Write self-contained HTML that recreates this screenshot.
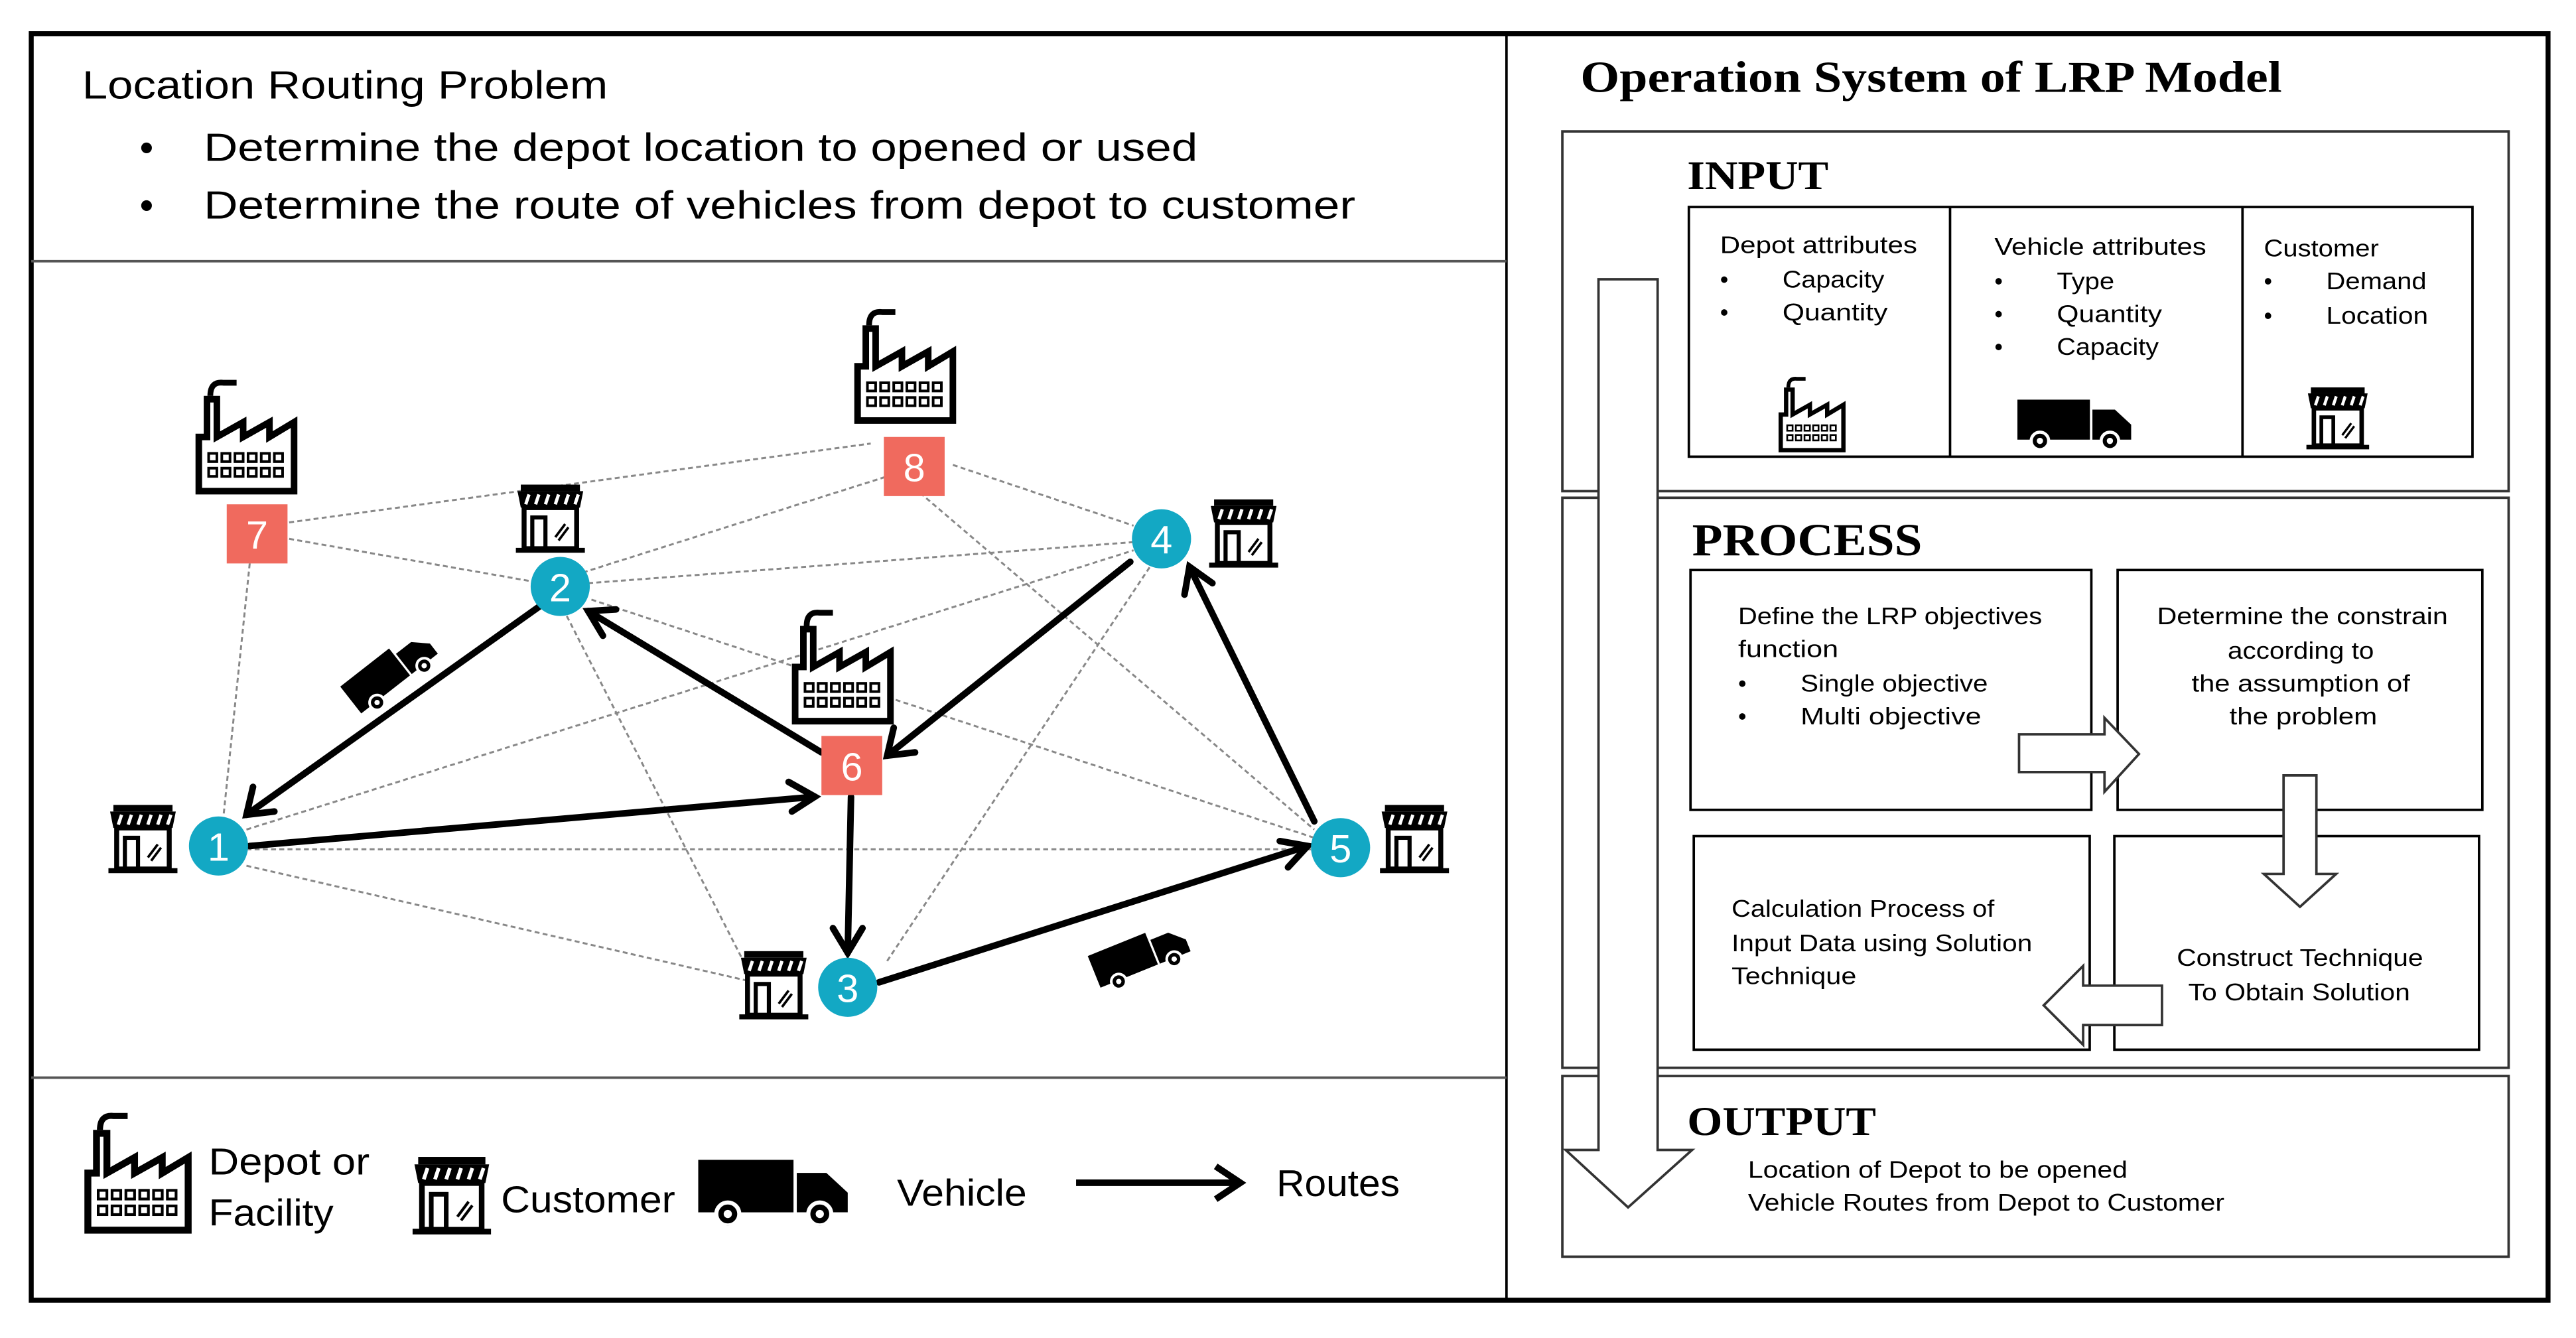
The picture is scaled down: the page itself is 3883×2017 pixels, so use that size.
<!DOCTYPE html>
<html><head><meta charset="utf-8"><style>
html,body{margin:0;padding:0;background:#fff}
svg{display:block}
.s{font-family:"Liberation Sans",sans-serif}
.r{font-family:"Liberation Serif",serif;font-weight:bold}
</style></head><body>
<svg width="3883" height="2017" viewBox="0 0 1568 814.5" xmlns="http://www.w3.org/2000/svg">
<defs>
<symbol id="fac" viewBox="0 0 64 76">
<path d="M10 15 Q10 6 18 7 H26" fill="none" stroke="#000" stroke-width="3.5"/>
<path d="M3 73 V40 H8 V17 H14 V40 L30 31 V40 L46 31 V40 L61 31 V73 Z" fill="#fff" stroke="#000" stroke-width="4" stroke-linejoin="miter"/>
<g fill="none" stroke="#000" stroke-width="1.6">
<rect x="9" y="50" width="5" height="5"/><rect x="17" y="50" width="5" height="5"/><rect x="25" y="50" width="5" height="5"/><rect x="33" y="50" width="5" height="5"/><rect x="41" y="50" width="5" height="5"/><rect x="49" y="50" width="5" height="5"/>
<rect x="9" y="59" width="5" height="5"/><rect x="17" y="59" width="5" height="5"/><rect x="25" y="59" width="5" height="5"/><rect x="33" y="59" width="5" height="5"/><rect x="41" y="59" width="5" height="5"/><rect x="49" y="59" width="5" height="5"/>
</g>
</symbol>
<symbol id="shop" viewBox="0 0 44 44">
<rect x="4" y="2" width="36" height="4" fill="#000"/>
<path d="M2 6 H42 L40 16 H4 Z" fill="#000"/>
<g stroke="#fff" stroke-width="2"><path d="M9 8 L7 14 M15 8 L13 14 M21 8 L19 14 M27 8 L25 14 M33 8 L31 14 M39 8 L37 14"/></g>
<rect x="6" y="16" width="32" height="25" fill="#fff" stroke="#000" stroke-width="3"/>
<rect x="11" y="22" width="8" height="19" fill="none" stroke="#000" stroke-width="2.5"/>
<path d="M25 34 L31 26 M27 36 L33 28" stroke="#000" stroke-width="1.5"/>
<path d="M1 42 H43" stroke="#000" stroke-width="3"/>
</symbol>
<symbol id="truck" viewBox="0 0 92 40">
<rect x="0" y="0" width="58" height="32" fill="#000"/>
<path d="M60 8 H78 L91 20 V32 H60 Z" fill="#000"/>
<circle cx="18" cy="33" r="7" fill="#000" stroke="#fff" stroke-width="2.5"/>
<circle cx="18" cy="33" r="2.5" fill="#fff"/>
<circle cx="74" cy="33" r="7" fill="#000" stroke="#fff" stroke-width="2.5"/>
<circle cx="74" cy="33" r="2.5" fill="#fff"/>
</symbol>
</defs>

<rect x="19" y="20.5" width="1532" height="771" fill="#fff" stroke="#000" stroke-width="3"/>
<line x1="917" y1="20" x2="917" y2="792" stroke="#000" stroke-width="1.5"/>
<line x1="19" y1="159" x2="917" y2="159" stroke="#555" stroke-width="1.5"/>
<line x1="19" y1="656" x2="917" y2="656" stroke="#555" stroke-width="1.5"/>

<g class="s" font-size="24" fill="#000" lengthAdjust="spacingAndGlyphs">
<text x="50" y="60" textLength="320" lengthAdjust="spacingAndGlyphs">Location Routing Problem</text>
<text x="85" y="98">•</text><text x="124" y="98" textLength="605" lengthAdjust="spacingAndGlyphs">Determine the depot location to opened or used</text>
<text x="85" y="133">•</text><text x="124" y="133" textLength="701" lengthAdjust="spacingAndGlyphs">Determine the route of vehicles from depot to customer</text>
</g>

<g stroke="#888" stroke-width="1.2" stroke-dasharray="3,2" fill="none">
<line x1="176" y1="318" x2="530" y2="270"/>
<line x1="176" y1="328" x2="330" y2="355"/>
<line x1="152" y1="343" x2="136" y2="497"/>
<line x1="350" y1="350" x2="540" y2="290"/>
<line x1="580" y1="283" x2="690" y2="320"/>
<line x1="560" y1="300" x2="800" y2="505"/>
<line x1="358" y1="355" x2="690" y2="330"/>
<line x1="360" y1="365" x2="800" y2="510"/>
<line x1="345" y1="375" x2="455" y2="590"/>
<line x1="150" y1="505" x2="690" y2="335"/>
<line x1="150" y1="517" x2="798" y2="517"/>
<line x1="150" y1="527" x2="455" y2="597"/>
<line x1="540" y1="585" x2="700" y2="345"/>
</g>

<use href="#fac" x="118" y="226" width="64" height="76"/>
<use href="#fac" x="519" y="183" width="64" height="76"/>
<use href="#fac" x="481" y="366" width="64" height="76"/>
<use href="#shop" x="65" y="488" width="44" height="44"/>
<use href="#shop" x="313" y="293" width="44" height="44"/>
<use href="#shop" x="735" y="302" width="44" height="44"/>
<use href="#shop" x="839" y="488" width="44" height="44"/>
<use href="#shop" x="449" y="577" width="44" height="44"/>
<use href="#truck" x="0" y="0" width="60" height="26" transform="translate(207,418) rotate(-38)"/>
<use href="#truck" x="0" y="0" width="60" height="26" transform="translate(662,582) rotate(-22)"/>

<g stroke="#000" stroke-width="4" fill="none" stroke-linecap="round">
<line x1="330" y1="368" x2="150" y2="496"/><path d="M154 479 L150 496 L167 494"/>
<line x1="500" y1="458" x2="358" y2="372"/><path d="M375 371 L358 372 L367 387"/>
<line x1="152" y1="515" x2="496" y2="485"/><path d="M480 476 L496 485 L482 494"/>
<line x1="518" y1="485" x2="516" y2="580"/><path d="M507 565 L516 580 L525 565"/>
<line x1="688" y1="342" x2="540" y2="460"/><path d="M544 443 L540 460 L557 458"/>
<line x1="535" y1="598" x2="796" y2="515"/><path d="M779 512 L796 515 L784 528"/>
<line x1="800" y1="500" x2="724" y2="345"/><path d="M721 362 L724 345 L738 355"/>
</g>

<g class="s" font-size="24" fill="#fff" text-anchor="middle">
<rect x="138" y="307" width="37" height="36" fill="#f06a5e"/><text x="156.5" y="334">7</text>
<rect x="538" y="266" width="37" height="36" fill="#f06a5e"/><text x="556.5" y="293">8</text>
<rect x="500" y="448" width="37" height="36" fill="#f06a5e"/><text x="518.5" y="475">6</text>
</g>
<g class="s" font-size="24" fill="#fff" text-anchor="middle">
<circle cx="133" cy="515" r="18" fill="#13a8c4"/><text x="133" y="524">1</text>
<circle cx="341" cy="357" r="18" fill="#13a8c4"/><text x="341" y="366">2</text>
<circle cx="516" cy="601" r="18" fill="#13a8c4"/><text x="516" y="610">3</text>
<circle cx="707" cy="328" r="18" fill="#13a8c4"/><text x="707" y="337">4</text>
<circle cx="816" cy="516" r="18" fill="#13a8c4"/><text x="816" y="525">5</text>
</g>

<use href="#fac" x="46" y="672" width="76" height="80"/>
<use href="#shop" x="249" y="702" width="52" height="50"/>
<use href="#truck" x="425" y="706" width="92" height="40"/>
<g class="s" font-size="23" fill="#000">
<text x="127" y="715" textLength="98" lengthAdjust="spacingAndGlyphs">Depot or</text>
<text x="127" y="746" textLength="76" lengthAdjust="spacingAndGlyphs">Facility</text>
<text x="305" y="738" textLength="106" lengthAdjust="spacingAndGlyphs">Customer</text>
<text x="546" y="734" textLength="79" lengthAdjust="spacingAndGlyphs">Vehicle</text>
<text x="777" y="728" textLength="75" lengthAdjust="spacingAndGlyphs">Routes</text>
</g>
<g stroke="#000" stroke-width="4" fill="none"><line x1="655" y1="720" x2="754" y2="720"/><path d="M740 710 L755 720 L740 730"/></g>

<text class="r" x="962" y="56" font-size="27" textLength="427" lengthAdjust="spacingAndGlyphs">Operation System of LRP Model</text>
<g fill="none" stroke="#333" stroke-width="1.5">
<rect x="951" y="80" width="576" height="219"/>
<rect x="951" y="303" width="576" height="347"/>
<rect x="951" y="655" width="576" height="110"/>
<rect x="1028" y="126" width="477" height="152" stroke="#000"/>
<line x1="1187" y1="126" x2="1187" y2="278" stroke="#000"/>
<line x1="1365" y1="126" x2="1365" y2="278" stroke="#000"/>
<rect x="1029" y="347" width="244" height="146" stroke="#000"/>
<rect x="1289" y="347" width="222" height="146" stroke="#000"/>
<rect x="1031" y="509" width="241" height="130" stroke="#000"/>
<rect x="1287" y="509" width="222" height="130" stroke="#000"/>
</g>
<path d="M973 170 H1009 V700 H1030 L991 735 L953 700 H973 Z" fill="#fff" stroke="#333" stroke-width="1.5"/>
<path d="M1229 447 H1281 V437 L1302 459 L1281 482 V470 H1229 Z" fill="#fff" stroke="#333" stroke-width="1.5"/>
<path d="M1390 472 H1410 V532 H1422 L1400 552 L1378 532 H1390 Z" fill="#fff" stroke="#333" stroke-width="1.5"/>
<path d="M1316 600 V624 H1268 V636 L1244 612 L1268 588 V600 Z" fill="#fff" stroke="#333" stroke-width="1.5"/>

<g class="r" font-size="25" fill="#000">
<text x="1027" y="115" textLength="86" lengthAdjust="spacingAndGlyphs">INPUT</text>
<text x="1030" y="338" font-size="28" textLength="140" lengthAdjust="spacingAndGlyphs">PROCESS</text>
<text x="1027" y="691" textLength="115" lengthAdjust="spacingAndGlyphs">OUTPUT</text>
</g>
<g class="s" font-size="14.5" fill="#000">
<text x="1047" y="154" textLength="120" lengthAdjust="spacingAndGlyphs">Depot attributes</text>
<text x="1047" y="175">•</text><text x="1085" y="175" textLength="62" lengthAdjust="spacingAndGlyphs">Capacity</text>
<text x="1047" y="195">•</text><text x="1085" y="195" textLength="64" lengthAdjust="spacingAndGlyphs">Quantity</text>
<text x="1214" y="155" textLength="129" lengthAdjust="spacingAndGlyphs">Vehicle attributes</text>
<text x="1214" y="176">•</text><text x="1252" y="176" textLength="35" lengthAdjust="spacingAndGlyphs">Type</text>
<text x="1214" y="196">•</text><text x="1252" y="196" textLength="64" lengthAdjust="spacingAndGlyphs">Quantity</text>
<text x="1214" y="216">•</text><text x="1252" y="216" textLength="62" lengthAdjust="spacingAndGlyphs">Capacity</text>
<text x="1378" y="156" textLength="70" lengthAdjust="spacingAndGlyphs">Customer</text>
<text x="1378" y="176">•</text><text x="1416" y="176" textLength="61" lengthAdjust="spacingAndGlyphs">Demand</text>
<text x="1378" y="197">•</text><text x="1416" y="197" textLength="62" lengthAdjust="spacingAndGlyphs">Location</text>
<text x="1058" y="380" textLength="185" lengthAdjust="spacingAndGlyphs">Define the LRP objectives</text>
<text x="1058" y="400" textLength="61" lengthAdjust="spacingAndGlyphs">function</text>
<text x="1058" y="421">•</text><text x="1096" y="421" textLength="114" lengthAdjust="spacingAndGlyphs">Single objective</text>
<text x="1058" y="441">•</text><text x="1096" y="441" textLength="110" lengthAdjust="spacingAndGlyphs">Multi objective</text>
<text x="1313" y="380" textLength="177" lengthAdjust="spacingAndGlyphs">Determine the constrain</text>
<text x="1356" y="401" textLength="89" lengthAdjust="spacingAndGlyphs">according to</text>
<text x="1334" y="421" textLength="133" lengthAdjust="spacingAndGlyphs">the assumption of</text>
<text x="1357" y="441" textLength="90" lengthAdjust="spacingAndGlyphs">the problem</text>
<text x="1325" y="588" textLength="150" lengthAdjust="spacingAndGlyphs">Construct Technique</text>
<text x="1332" y="609" textLength="135" lengthAdjust="spacingAndGlyphs">To Obtain Solution</text>
<text x="1054" y="558" textLength="160" lengthAdjust="spacingAndGlyphs">Calculation Process of</text>
<text x="1054" y="579" textLength="183" lengthAdjust="spacingAndGlyphs">Input Data using Solution</text>
<text x="1054" y="599" textLength="76" lengthAdjust="spacingAndGlyphs">Technique</text>
<text x="1064" y="717" textLength="231" lengthAdjust="spacingAndGlyphs">Location of Depot to be opened</text>
<text x="1064" y="737" textLength="290" lengthAdjust="spacingAndGlyphs">Vehicle Routes from Depot to Customer</text>
</g>
<use href="#fac" x="1081" y="226" width="44" height="50"/>
<use href="#truck" x="1228" y="243" width="70" height="31"/>
<use href="#shop" x="1402" y="234" width="42" height="40"/>
</svg>
</body></html>
